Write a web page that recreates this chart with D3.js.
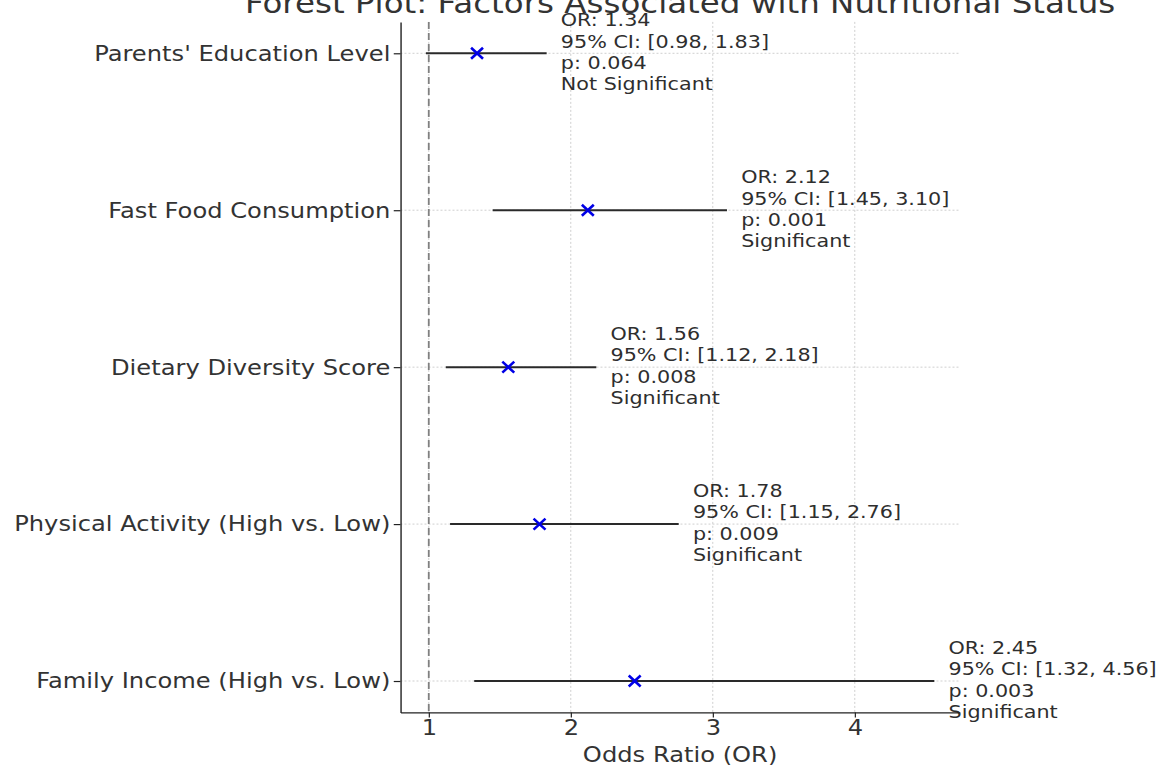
<!DOCTYPE html>
<html><head><meta charset="utf-8">
<script src="https://cdn.jsdelivr.net/npm/d3@7"></script>
<style>html,body{margin:0;padding:0;background:#fff;} svg{display:block;}</style>
</head><body>
<script>
// ---- data ----
const categories = [
  "Parents' Education Level",
  "Fast Food Consumption",
  "Dietary Diversity Score",
  "Physical Activity (High vs. Low)",
  "Family Income (High vs. Low)"
];
const oddsRatios = [1.34, 2.12, 1.56, 1.78, 2.45];
const ciLower    = [0.98, 1.45, 1.12, 1.15, 1.32];
const ciUpper    = [1.83, 3.10, 2.18, 2.76, 4.56];
const pValues    = [0.064, 0.001, 0.008, 0.009, 0.003];
const significance = ["Not Significant", "Significant", "Significant", "Significant", "Significant"];
const xTicks = [1, 2, 3, 4];
const referenceOR = 1;

(function () {
// ---- layout (internal coords, stretched horizontally to fit) ----
const outW = 1160, outH = 769;
const sx = 1.125;
const W = outW / sx;
const pLeft = 356, pRight = 853.1, pTop = 21.9, pBottom = 712.4;

const rows = categories.map((c, i) => ({
  cat: c, or: oddsRatios[i], lo: ciLower[i], hi: ciUpper[i], p: pValues[i], sig: significance[i]
}));

const svg = d3.select("body").append("svg")
  .attr("width", outW).attr("height", outH)
  .attr("viewBox", `0 0 ${W} ${outH}`)
  .attr("preserveAspectRatio", "none")
  .style("font-family", "'DejaVu Sans', sans-serif");

const lo = d3.min(ciLower), hi = d3.max(ciUpper);
const pad = 0.05 * (hi - lo);
const x = d3.scaleLinear().domain([lo - pad, hi + pad]).range([pLeft, pRight]);
const y = d3.scalePoint().domain(categories.slice().reverse()).range([pBottom, pTop]).padding(0.2);

const nss = "non-scaling-stroke";

// grid
const grid = svg.append("g");
grid.selectAll("line.gx").data(xTicks).join("line").attr("class", "gx")
  .attr("x1", d => x(d)).attr("x2", d => x(d)).attr("y1", pTop).attr("y2", pBottom)
  .attr("stroke", "#cfcfcf").attr("stroke-width", 1).attr("stroke-dasharray", "2,2")
  .attr("vector-effect", nss);
grid.selectAll("line.gy").data(categories).join("line").attr("class", "gy")
  .attr("x1", pLeft).attr("x2", pRight).attr("y1", d => y(d)).attr("y2", d => y(d))
  .attr("stroke", "#cfcfcf").attr("stroke-width", 1).attr("stroke-dasharray", "2,2")
  .attr("vector-effect", nss);

// reference line
svg.append("line")
  .attr("x1", x(referenceOR)).attr("x2", x(referenceOR)).attr("y1", pTop).attr("y2", pBottom)
  .attr("stroke", "#808080").attr("stroke-width", 1.8).attr("stroke-dasharray", "7,4")
  .attr("vector-effect", nss);

// CI lines
svg.append("g").selectAll("line").data(rows).join("line")
  .attr("x1", d => x(d.lo)).attr("x2", d => x(d.hi))
  .attr("y1", d => y(d.cat)).attr("y2", d => y(d.cat))
  .attr("stroke", "#2a2a2a").attr("stroke-width", 2)
  .attr("vector-effect", nss);

// markers
const mh = 5.3, mv = 5.5;
svg.append("g").selectAll("path").data(rows).join("path")
  .attr("d", d => {
    const cx = x(d.or), cy = y(d.cat);
    return `M${cx - mh},${cy - mv}L${cx + mh},${cy + mv}M${cx - mh},${cy + mv}L${cx + mh},${cy - mv}`;
  })
  .attr("fill", "none").attr("stroke", "#0000e6").attr("stroke-width", 2.6)
  .attr("vector-effect", nss);

// annotations
const f2 = d3.format(".2f"), f3 = d3.format(".3f");
const offsets = [-27, -5.7, 15.6, 36.9];
const ann = svg.append("g").attr("fill", "#2e2e2e").attr("font-size", 18.4);
rows.forEach(d => {
  const lines = [
    `OR: ${f2(d.or)}`,
    `95% CI: [${f2(d.lo)}, ${f2(d.hi)}]`,
    `p: ${f3(d.p)}`,
    d.sig
  ];
  const tx = x(d.hi + 0.1);
  ann.selectAll(null).data(lines).enter().append("text")
    .attr("x", tx).attr("y", (t, i) => y(d.cat) + offsets[i])
    .text(t => t);
});

// axes
const xAxis = svg.append("g").attr("transform", `translate(0,${pBottom})`)
  .call(d3.axisBottom(x).tickValues(xTicks).tickFormat(d3.format("d")).tickSize(5).tickPadding(2).tickSizeOuter(0));
const yAxis = svg.append("g").attr("transform", `translate(${pLeft},0)`)
  .call(d3.axisLeft(y).tickSize(6).tickPadding(3).tickSizeOuter(0));

[xAxis, yAxis].forEach(a => {
  a.selectAll("path.domain").attr("stroke", "#222").attr("stroke-width", 1.4).attr("vector-effect", nss);
  a.selectAll(".tick line").attr("stroke", "#222").attr("stroke-width", 1.2).attr("vector-effect", nss);
  a.selectAll(".tick text").attr("fill", "#333").attr("font-size", 21.5)
    .attr("font-family", "'DejaVu Sans', sans-serif");
});

// axis label
svg.append("text")
  .attr("x", (pLeft + pRight) / 2).attr("y", 762)
  .attr("text-anchor", "middle").attr("fill", "#333").attr("font-size", 21.5)
  .text("Odds Ratio (OR)");

// title
svg.append("text")
  .attr("x", (pLeft + pRight) / 2).attr("y", 13)
  .attr("text-anchor", "middle").attr("fill", "#333").attr("font-size", 28.9)
  .text("Forest Plot: Factors Associated with Nutritional Status");
})();
</script>
</body></html>
